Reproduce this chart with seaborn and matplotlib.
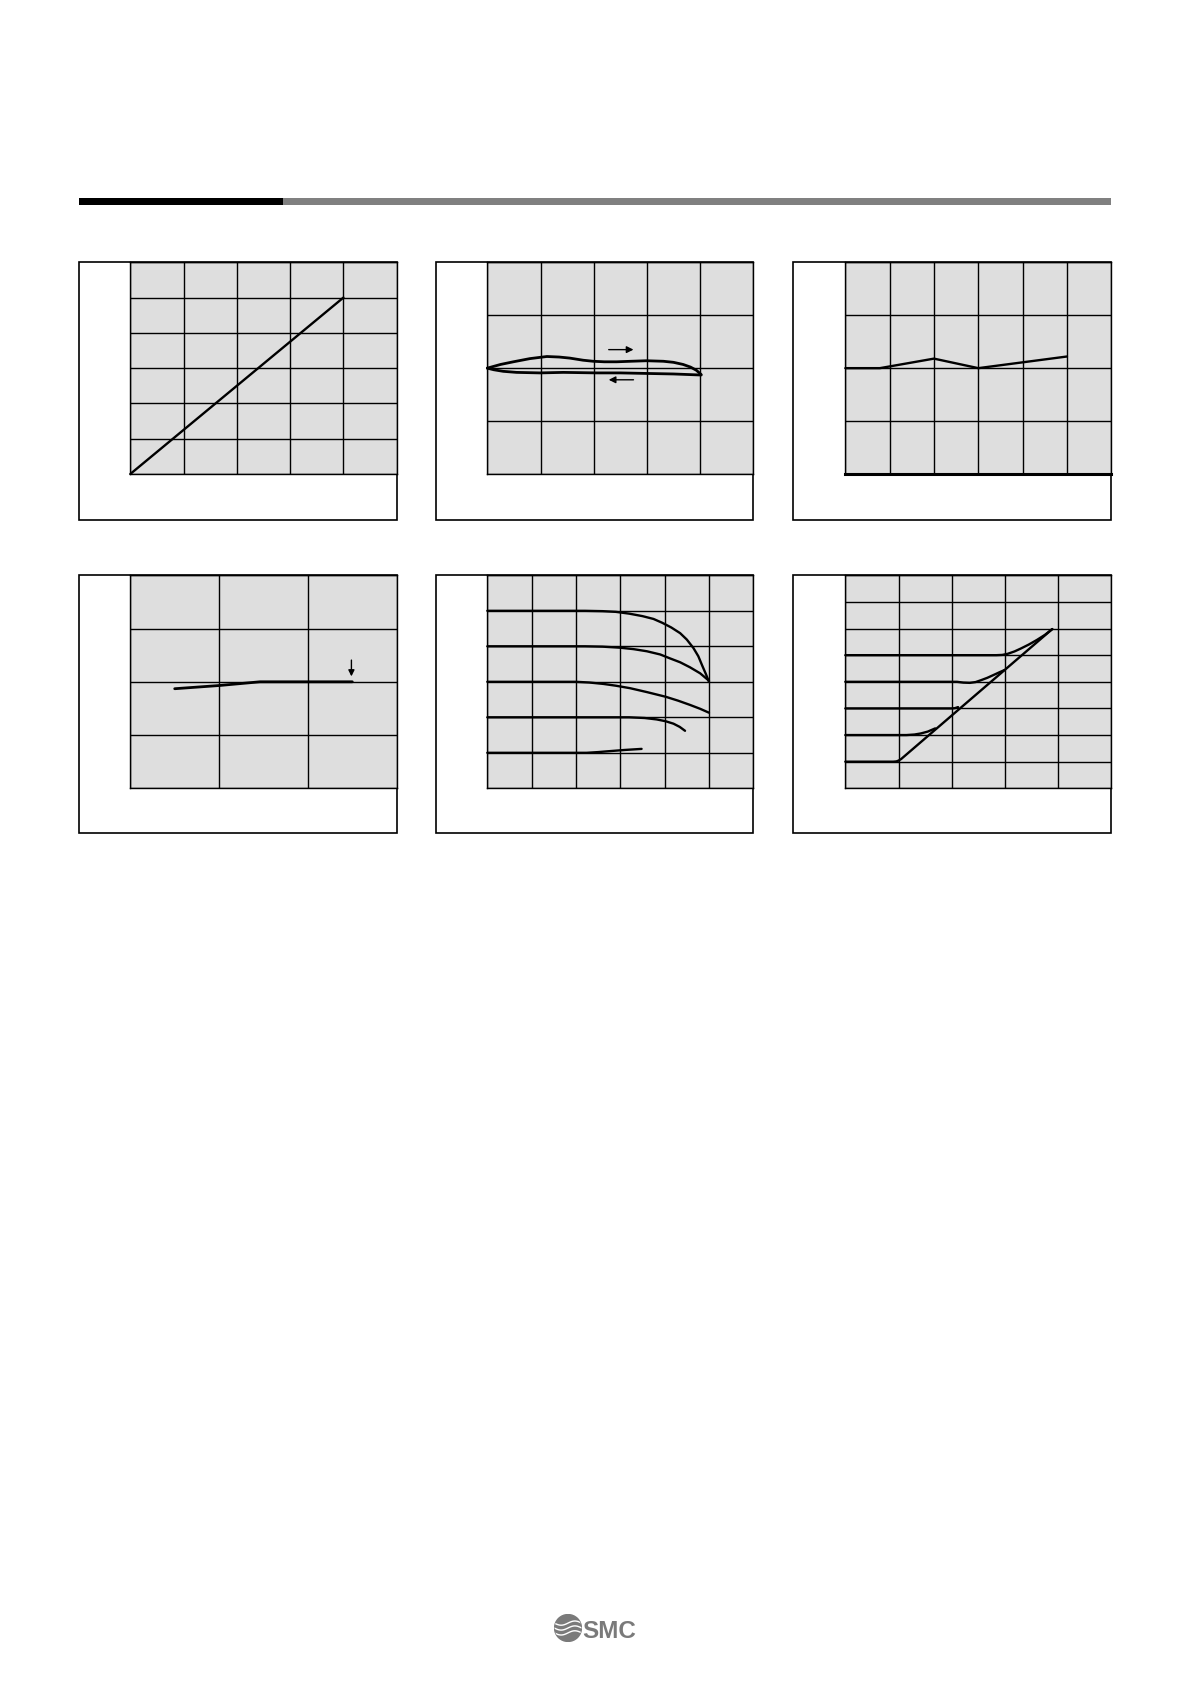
import matplotlib
matplotlib.use("Agg")
import matplotlib.pyplot as plt
import numpy as np
import seaborn as sns
from matplotlib.patches import Rectangle, Circle

sns.set_style("white")
plt.rcParams['font.family'] = ['DejaVu Sans']

W, H = 1190, 1682

# panel 1: straight line
p1_x = [0, 4]
p1_y = [0, 5]

# panel 2: hysteresis loop
p2_up_x = [0, 0.25, 0.49, 0.8, 1.12, 1.35, 1.55, 1.8, 1.99, 2.2, 2.43, 2.7, 2.99, 3.31,
           3.5, 3.68, 3.82, 3.93, 4.02]
p2_up_y = [2.0, 2.07, 2.12, 2.18, 2.22, 2.21, 2.19, 2.15, 2.13, 2.12, 2.12, 2.13, 2.14,
           2.13, 2.11, 2.07, 2.02, 1.96, 1.88]
p2_dn_x = [4.02, 3.5, 2.99, 2.5, 2.06, 1.43, 0.99, 0.55, 0.3, 0.12, 0]
p2_dn_y = [1.87, 1.89, 1.9, 1.91, 1.91, 1.92, 1.91, 1.92, 1.94, 1.97, 2.0]

# panel 3: zigzag
p3_x = [0, 0.78, 2.0, 3.0, 5.0]
p3_y = [2.0, 2.0, 2.18, 2.0, 2.22]

# panel 4: nearly flat line
p4_x = [0.5, 1.0, 1.46, 2.5]
p4_y = [1.87, 1.93, 2.0, 2.0]

# panel 5: family of drooping curves
p5_curves = {
    "a": ([0, 2.2, 2.6, 2.9, 3.2, 3.5, 3.75, 3.95, 4.15, 4.35, 4.5, 4.65, 4.76, 4.85, 4.93, 5.0],
          [5.0, 5.0, 4.99, 4.97, 4.92, 4.85, 4.77, 4.66, 4.53, 4.37, 4.19, 3.95, 3.72, 3.45, 3.22, 3.0]),
    "b": ([0, 2.2, 2.6, 3.0, 3.3, 3.6, 3.9, 4.12, 4.35, 4.57, 4.8, 5.0],
          [4.0, 4.0, 3.99, 3.96, 3.92, 3.86, 3.77, 3.66, 3.55, 3.41, 3.24, 3.03]),
    "c": ([0, 2.0, 2.3, 2.62, 2.9, 3.22, 3.6, 4.02, 4.3, 4.57, 4.8, 5.0],
          [3.0, 3.0, 2.98, 2.94, 2.89, 2.82, 2.71, 2.58, 2.47, 2.35, 2.24, 2.13]),
    "d": ([0, 3.2, 3.55, 3.82, 4.02, 4.2, 4.34, 4.46],
          [2.0, 2.0, 1.98, 1.94, 1.89, 1.82, 1.73, 1.62]),
    "e": ([0, 2.24, 2.5, 2.69, 3.1, 3.48],
          [1.0, 1.0, 1.02, 1.04, 1.08, 1.11]),
}

# panel 6: flat lines joining a diagonal
p6_curves = {
    "main": ([0, 0.9, 0.96, 1.0, 1.05, 3.89], [1.0, 1.0, 1.01, 1.04, 1.1, 5.98]),
    "l5": ([0, 2.84, 2.95, 3.05, 3.18, 3.3, 3.45, 3.6, 3.75, 3.89],
           [5.0, 5.0, 5.01, 5.05, 5.14, 5.25, 5.4, 5.57, 5.76, 5.98]),
    "l4": ([0, 2.1, 2.22, 2.34, 2.45, 2.55, 2.67, 2.78, 2.9, 2.99],
           [4.0, 4.0, 3.97, 3.96, 3.99, 4.06, 4.15, 4.25, 4.36, 4.44]),
    "l3": ([0, 2.0, 2.06, 2.12], [3.0, 3.0, 3.01, 3.05]),
    "l2": ([0, 1.15, 1.3, 1.42, 1.55, 1.69], [2.0, 2.0, 2.02, 2.06, 2.13, 2.25]),
}

fig = plt.figure(figsize=(W / 100, H / 100), dpi=100)


def fx(px):
    return px / W


def fy(py):
    return 1 - py / H


def add_rect(x0, y0, x1, y1, **kw):
    fig.add_artist(Rectangle((fx(x0), fy(y1)), fx(x1) - fx(x0), fy(y0) - fy(y1),
                             transform=fig.transFigure, **kw))


# header bar
add_rect(79, 198, 283, 204.5, facecolor='black', edgecolor='none')
add_rect(283, 198, 1111, 204.5, facecolor='#808080', edgecolor='none')

cols = [(79.3, 130.3, 396.7), (436.3, 487.3, 753.3), (793.3, 845.3, 1111.3)]
rows = [(262.3, 474.0, 520.3), (575.3, 788.3, 833.3)]


def make_panel(ci, ri, nx, ny):
    bx0, px0, x1 = cols[ci]
    y0, py1, by1 = rows[ri]
    add_rect(bx0, y0, x1, by1, facecolor='white', edgecolor='black', lw=1.2, zorder=0)
    ax = fig.add_axes([fx(px0), fy(py1), fx(x1) - fx(px0), fy(y0) - fy(py1)])
    ax.set_facecolor('#dedede')
    ax.set_xlim(0, nx)
    ax.set_ylim(0, ny)
    ax.set_xticks(range(nx + 1))
    ax.set_yticks(range(ny + 1))
    ax.tick_params(length=0, labelbottom=False, labelleft=False)
    ax.grid(True, color='black', lw=1.0)
    ax.set_axisbelow(True)
    for s in ax.spines.values():
        s.set_color('black')
        s.set_linewidth(1.0)
    return ax


def draw(ax, x, y, lw=1.7):
    sns.lineplot(x=x, y=y, ax=ax, color='black', lw=lw, sort=False,
                 estimator=None, clip_on=False)


ax1 = make_panel(0, 0, 5, 6)
draw(ax1, p1_x, p1_y)

ax2 = make_panel(1, 0, 5, 4)
draw(ax2, p2_up_x, p2_up_y, lw=2.0)
draw(ax2, p2_dn_x, p2_dn_y, lw=2.0)
ax2.annotate("", xy=(2.8, 2.35), xytext=(2.23, 2.35),
             arrowprops=dict(arrowstyle='-|>', color='black', lw=1.0, mutation_scale=10))
ax2.annotate("", xy=(2.23, 1.78), xytext=(2.8, 1.78),
             arrowprops=dict(arrowstyle='-|>', color='black', lw=1.0, mutation_scale=10))

ax3 = make_panel(2, 0, 6, 4)
draw(ax3, p3_x, p3_y)
ax3.spines['bottom'].set_linewidth(2.2)

ax4 = make_panel(0, 1, 3, 4)
draw(ax4, p4_x, p4_y, lw=2.0)
ax4.annotate("", xy=(2.49, 2.05), xytext=(2.49, 2.46),
             arrowprops=dict(arrowstyle='-|>', color='black', lw=1.0, mutation_scale=9))

ax5 = make_panel(1, 1, 6, 6)
for cx, cy in p5_curves.values():
    draw(ax5, cx, cy)

ax6 = make_panel(2, 1, 5, 8)
for cx, cy in p6_curves.values():
    draw(ax6, cx, cy)

# logo
lax = fig.add_axes([fx(554), fy(1642), fx(28), 28 / H])
lax.set_xlim(-1, 1)
lax.set_ylim(-1, 1)
lax.set_aspect('equal')
lax.axis('off')
circ = Circle((0, 0), 0.96, color='#7a7a7a')
lax.add_patch(circ)
t = np.linspace(-1, 1, 60)
for off in (-0.35, 0.0, 0.35):
    wl, = lax.plot(t, off + 0.15 * np.sin(t * 3.2), color='white', lw=1.0)
    wl.set_clip_path(circ)
fig.text(fx(582.5), fy(1637.5), "SMC", fontsize=17.5, fontweight='bold',
         color='#7a7a7a', ha='left', va='baseline', family='Liberation Sans')

fig.savefig("out.png", dpi=100)
